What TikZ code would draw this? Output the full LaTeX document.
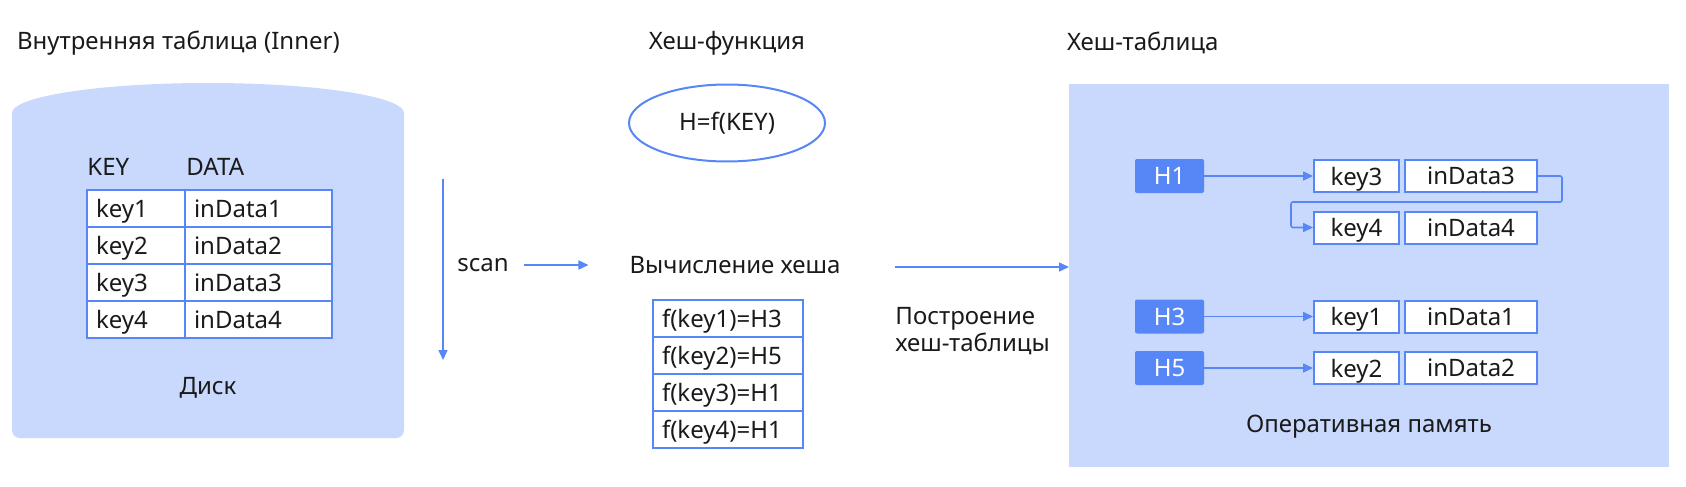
\documentclass[tikz,border=0pt]{standalone}
\usepackage{fontspec}
\setmainfont{Noto Sans}
\usetikzlibrary{arrows.meta,shapes.geometric}

\definecolor{lineblue}{HTML}{5787F7}
\definecolor{fillblue}{HTML}{C8D9FD}
\definecolor{inkdark}{HTML}{1A1A1A}

\tikzset{
  every node/.style={font=\fontsize{12}{13.5}\selectfont, text=inkdark},
  cell/.style={draw=lineblue, line width=1pt, fill=white, anchor=north west,
    minimum height=18.5pt, inner xsep=4.5pt, inner ysep=0pt, align=left,
    text depth=0pt},
  keycell/.style={cell, text width=40pt},
  datacell/.style={cell, text width=64.5pt},
  hashcell/.style={cell, text width=66pt},
  bucket/.style={fill=lineblue, rounded corners=1pt, minimum width=34.5pt,
    minimum height=17pt, inner sep=0pt, text=white, text depth=0pt},
  chainkey/.style={draw=lineblue, line width=1pt, fill=white, minimum width=42.5pt,
    minimum height=16pt, inner sep=0pt, text depth=0pt},
  chaindata/.style={draw=lineblue, line width=1pt, fill=white, minimum width=66pt,
    minimum height=16pt, inner sep=0pt, text depth=0pt},
  flow/.style={-{Triangle[length=5pt,width=4.5pt]}, draw=lineblue, line width=0.8pt}
}

\begin{document}
\begin{tikzpicture}[x=0.5pt, y=-0.5pt]
    \useasboundingbox (0,0) rectangle (1686,487);

    % Titles
    \node[anchor=west] (innertitle) at (10,43) {Внутренняя таблица (Inner)};
    \node (hashtitle) at (727,43) {Хеш-функция};
    \node[anchor=west] (tabletitle) at (1060,43) {Хеш-таблица};

    % Draw the disk (cylinder)
    \fill[fillblue, rounded corners=4pt] (12,113) -- (12,438) -- (404,438) -- (404,113);
    \fill[fillblue] (208,113) ellipse [x radius=196, y radius=30];
    \node (disk) at (208,388) {Диск};

    % Inner table
    \node[anchor=west, inner xsep=0pt] (keyhead) at (87,167) {KEY};
    \node[anchor=west, inner xsep=0pt] (datahead) at (186,167) {DATA};
    \node[keycell] (k1) at (86,189) {key1};
    \node[datacell] (d1) at (184,189) {inData1};
    \node[keycell] (k2) at (86,226) {key2};
    \node[datacell] (d2) at (184,226) {inData2};
    \node[keycell] (k3) at (86,263) {key3};
    \node[datacell] (d3) at (184,263) {inData3};
    \node[keycell] (k4) at (86,300) {key4};
    \node[datacell] (d4) at (184,300) {inData4};

    % Scan arrow (vertical)
    \coordinate (scantop) at (443,179);
    \coordinate (scanbot) at (443,360);
    \draw[flow] (scantop) -- (scanbot);

    % Hash function
    \node[ellipse, draw=lineblue, line width=1pt, fill=white, minimum width=98pt,
      minimum height=38.5pt] (hashfn) at (727,123) {H=f(KEY)};
    \node (scan) at (483,265) {scan};
    \node (calc) at (735,265) {Вычисление хеша};
    \draw[flow, shorten <=4pt, shorten >=17pt] (scan.east) -- (calc.west);

    % Hash values
    \node[hashcell] (f1) at (652,299) {f(key1)=H3};
    \node[hashcell] (f2) at (652,336) {f(key2)=H5};
    \node[hashcell] (f3) at (652,373) {f(key3)=H1};
    \node[hashcell] (f4) at (652,410) {f(key4)=H1};

    % Memory block
    \node[fill=fillblue, inner sep=0pt, minimum width=300pt, minimum height=191.5pt,
      anchor=north west] (memory) at (1069,84) {};
    \node (ram) at (1369,427) {Оперативная память};

    % Build arrow
    \coordinate (buildfrom) at (895,267);
    \draw[flow] (buildfrom) -- (buildfrom -| memory.west);
    \node[anchor=north west, align=left, inner xsep=0pt] (build) at (895,300)
      {Построение\\хеш-таблицы};

    % Buckets and chains
    \node[bucket] (h1) at (1169.5,176) {H1};
    \node[chainkey] (c3) at (1356.5,176) {key3};
    \node[chaindata] (e3) at (1471,176) {inData3};
    \node[chainkey] (c4) at (1356.5,227.5) {key4};
    \node[chaindata] (e4) at (1471,227.5) {inData4};
    \node[bucket] (h3) at (1169.5,316.5) {H3};
    \node[chainkey] (c1) at (1356.5,316.5) {key1};
    \node[chaindata] (e1) at (1471,316.5) {inData1};
    \node[bucket] (h5) at (1169.5,368) {H5};
    \node[chainkey] (c2) at (1356.5,368) {key2};
    \node[chaindata] (e2) at (1471,368) {inData2};

    \draw[flow] (h1) -- (c3);
    \draw[flow] (h3) -- (c1);
    \draw[flow] (h5) -- (c2);
    \draw[flow, rounded corners=1pt] (e3.east) -- ++(24,0) |- (1291,202) |- (c4.west);
\end{tikzpicture}
\end{document}
